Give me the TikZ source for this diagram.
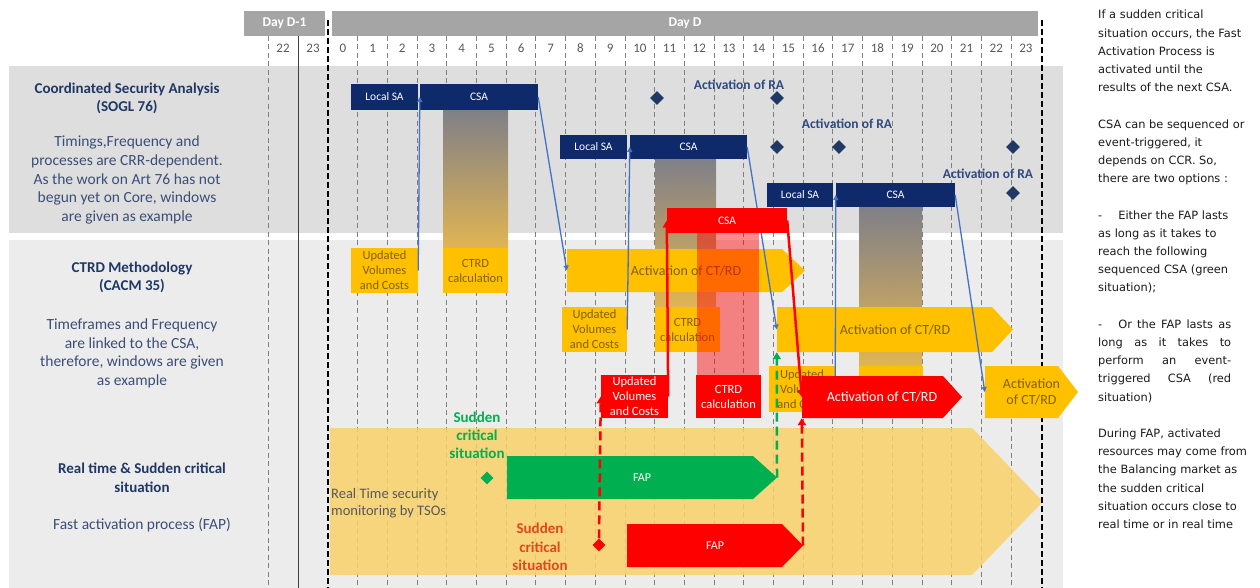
\documentclass[tikz,border=0pt]{standalone}
\usepackage{fontspec}
\setmainfont{Carlito}
\newfontfamily\rfont{DejaVu Sans}
\usetikzlibrary{shapes.geometric,arrows.meta}
\definecolor{navy}{HTML}{0E2A6B}
\definecolor{hdrgray}{HTML}{A5A5A5}
\definecolor{hourtxt}{HTML}{595959}
\definecolor{bandA}{HTML}{DEDEDE}
\definecolor{bandB}{HTML}{ECECEC}
\definecolor{titlenavy}{HTML}{1F3864}
\definecolor{bodyblue}{HTML}{3B4E78}
\definecolor{ralabel}{HTML}{2F4A7E}
\definecolor{dianavy}{HTML}{1F3864}
\definecolor{myyellow}{HTML}{FFC000}
\definecolor{ytext}{HTML}{7F6000}
\definecolor{myred}{HTML}{FF0000}
\definecolor{mygreen}{HTML}{00B050}
\definecolor{redtxt}{HTML}{E5461C}
\definecolor{conblue}{HTML}{4472C4}
\definecolor{bigyellow}{HTML}{F8D16A}
\definecolor{gtop}{HTML}{8C8C96}
\definecolor{gbot}{HTML}{F7C65A}
\definecolor{dashgray}{HTML}{7F7F7F}
\definecolor{soliddark}{HTML}{404040}
\definecolor{notetxt}{HTML}{1A1A1A}

\newcommand\Bx[6]{\node[#1, minimum width={#4-#2}, minimum height={#5-#3}] (#6) at ({(#2+#4)/2},{(#3+#5)/2})}
\newcommand\Arr[8]{%
 \fill[#1] (#3,#4) -- ({#5-#7},#4) -- (#5,{(#4+#6)/2}) -- ({#5-#7},#6) -- (#3,#6) -- cycle;
 \coordinate (#2-tip) at (#5,{(#4+#6)/2});
 \node[#8, minimum width={#5-#3}, minimum height={#6-#4}] (#2) at ({(#3+#5)/2},{(#4+#6)/2})}

\begin{document}
\begin{tikzpicture}[x=1pt,y=-1pt,
  navybox/.style={fill=navy,text=white,inner sep=0,font=\fontsize{11.5}{13}\selectfont},
  ybox/.style={fill=myyellow,text=ytext,inner sep=0,align=center,font=\fontsize{12.5}{15}\selectfont},
  rbox/.style={fill=myred,text=white,inner sep=0,align=center,font=\fontsize{12.5}{15}\selectfont},
  rboxs/.style={fill=myred,text=white,inner sep=0,font=\fontsize{11.5}{13}\selectfont},
  yfill/.style={fill=myyellow},
  rfill/.style={fill=myred},
  gfill/.style={fill=mygreen},
  bigfill/.style={fill=bigyellow,fill opacity=0.85},
  ytxt/.style={text=ytext,inner sep=0,align=center,font=\fontsize{14}{16}\selectfont},
  wtxt/.style={text=white,inner sep=0,align=center,font=\fontsize{14}{16}\selectfont},
  faptxt/.style={text=white,inner sep=0,font=\fontsize{12}{14}\selectfont},
  notxt/.style={inner sep=0},
  hourlbl/.style={text=hourtxt,font=\fontsize{13}{15}\selectfont,inner sep=0},
  hdrbox/.style={fill=hdrgray,text=white,inner sep=0,font=\bfseries\fontsize{13.5}{15}\selectfont},
  hourline/.style={draw=dashgray,line width=1pt,dash pattern=on 5pt off 3.5pt},
  dayline/.style={draw=black,line width=2.4pt,dash pattern=on 6pt off 3pt},
  gcol/.style={top color=gtop,bottom color=gbot,fill opacity=0.9},
  ltitle/.style={text=titlenavy,font=\bfseries\fontsize{15}{18.6}\selectfont,align=center,inner sep=0},
  lbody/.style={text=bodyblue,font=\fontsize{15.5}{18.6}\selectfont,align=center,inner sep=0},
  ralbl/.style={text=ralabel,font=\bfseries\fontsize{13.5}{15}\selectfont,inner sep=0},
  dia/.style={diamond,inner sep=0,minimum width=14,minimum height=14},
  sudG/.style={text=mygreen,font=\bfseries\fontsize{15}{18}\selectfont,align=center,inner sep=0},
  sudR/.style={text=redtxt,font=\bfseries\fontsize{15}{18.5}\selectfont,align=center,inner sep=0},
  rttxt/.style={text=hourtxt,font=\fontsize{14.5}{17}\selectfont,align=left,inner sep=0},
  rtext/.style={text=notetxt,font=\rfont\fontsize{11.4}{18.2}\selectfont,align=left,inner sep=0},
  bcon/.style={draw=conblue,line width=1.3pt,-{Triangle[length=5pt,width=5pt]}},
  rcon/.style={draw=myred,line width=2.5pt,-{Triangle[length=7pt,width=8pt]}},
  rdash/.style={rcon,dash pattern=on 9pt off 5pt},
  gdash/.style={draw=mygreen,line width=2.5pt,dash pattern=on 9pt off 5pt,-{Triangle[length=7pt,width=8pt]}}
]
\useasboundingbox (0,0) rectangle (1260,588);
% bands
\fill[bandA] (9,66) rectangle (1063,233);
\fill[bandB] (9,240) rectangle (1063,588);
% left labels
\node[ltitle] (t1) at (127,98.5) {Coordinated Security Analysis\\(SOGL 76)};
\node[lbody] (b1) at (127,180) {Timings,Frequency and\\processes are CRR-dependent.\\As the work on Art 76 has not\\begun yet on Core, windows\\are given as example};
\node[ltitle] (t2) at (132,277.5) {CTRD Methodology\\(CACM 35)};
\node[lbody] (b2) at (132,353.5) {Timeframes and Frequency\\are linked to the CSA,\\therefore, windows are given\\as example};
\node[ltitle] (t3) at (142,477.5) {Real time \& Sudden critical\\situation};
\node[lbody] (b3) at (142,525) {Fast activation process (FAP)};
% header
\Bx{hdrbox}{244}{11}{325}{36}{dm1}{Day D-1};
\Bx{hdrbox}{332}{11}{1038}{36}{dd}{Day D};
\node[hourlbl] (hm22) at (283,48) {22};
\node[hourlbl] (hm23) at (313,48) {23};
\foreach \h in {0,...,23} \node[hourlbl] (h\h) at ({328+29.7*(\h+0.5)},48) {\h};
% grid lines
\draw[hourline] (268,36) -- (268,588);
\draw[draw=soliddark,line width=0.9pt] (298,36) -- (298,588);
\foreach \k in {1,...,23} \draw[hourline] ({328+29.7*\k},36) -- ({328+29.7*\k},588);
% gradient columns
\fill[gcol] (443,110) rectangle (508,248);
\fill[gcol] (655,159) rectangle (716,307);
\fill[gcol] (859,207) rectangle (922,366);
% big real-time arrow
\Arr{bigfill}{rt}{330}{428}{1043}{575}{71}{notxt}{};
\node[rttxt,anchor=west] (rtl) at (331,503.5) {Real Time security\\monitoring by TSOs};
% day boundaries
\draw[dayline] (328,20) -- (328,588);
\draw[dayline] (1042,20) -- (1042,588);
% navy CSA boxes
\Bx{navybox}{351}{84}{418}{110}{lsa1}{Local SA};
\Bx{navybox}{420}{84}{538}{110}{csa1}{CSA};
\Bx{navybox}{560}{135}{627}{159}{lsa2}{Local SA};
\Bx{navybox}{630}{135}{747}{159}{csa2}{CSA};
\Bx{navybox}{767}{183}{833}{207}{lsa3}{Local SA};
\Bx{navybox}{836}{183}{955}{207}{csa3}{CSA};
% activation of RA
\node[ralbl] (ra1) at (739,85) {Activation of RA};
\node[ralbl] (ra2) at (847,124) {Activation of RA};
\node[ralbl] (ra3) at (988,174) {Activation of RA};
\node[dia,fill=dianavy] (d1a) at (657,98) {};
\node[dia,fill=dianavy] (d1b) at (777,98) {};
\node[dia,fill=dianavy] (d2a) at (777,147) {};
\node[dia,fill=dianavy] (d2b) at (839,147) {};
\node[dia,fill=dianavy] (d2c) at (1013,147) {};
\node[dia,fill=dianavy] (d3a) at (1013,193) {};
% yellow CTRD items
\Bx{ybox}{351}{248}{418}{293}{upd1}{Updated\\Volumes\\and Costs};
\Bx{ybox}{443}{248}{508}{293}{ctrd1}{CTRD\\calculation};
\Arr{yfill}{act1}{567}{249}{805}{292}{23}{ytxt}{Activation of CT/RD};
\Bx{ybox}{562}{307}{627}{352}{upd2}{Updated\\Volumes\\and Costs};
\Bx{ybox}{655}{307}{720}{352}{ctrd2}{CTRD\\calculation};
\Arr{yfill}{act2}{777}{307}{1013}{352}{21}{ytxt}{Activation of CT/RD};
\Bx{ybox}{769}{366}{835}{412}{upd3}{Updated\\Volumes\\and Costs};
\Bx{ybox}{859}{366}{923}{412}{ctrd3}{CTRD\\calculation};
\Arr{yfill}{act3}{985}{366}{1078}{418}{20}{ytxt}{Activation\\of CT/RD};
% blue connectors
\draw[bcon] (upd1.east) -- (csa1.west);
\draw[bcon] (csa1.east) -- (act1.west);
\draw[bcon] (upd2.east) -- (csa2.west);
\draw[bcon] (csa2.east) -- (act2.west);
\draw[bcon] (upd3.east) -- (csa3.west);
\draw[bcon] (csa3.east) -- (act3.west);
% red event-triggered column
\fill[myred,fill opacity=0.45] (697,233) rectangle (759,375);
\Bx{rboxs}{667}{208}{787}{233}{csaR}{CSA};
\Bx{rbox}{601}{375}{668}{418}{updR}{Updated\\Volumes\\and Costs};
\Bx{rbox}{696}{375}{761}{418}{ctrdR}{CTRD\\calculation};
\Arr{rfill}{actR}{802}{376}{962}{418}{19}{wtxt}{Activation of CT/RD};
% FAP arrows
\Arr{gfill}{fapG}{507}{456}{777}{499}{24}{faptxt}{FAP};
\Arr{rfill}{fapR}{627}{524}{803}{567}{21}{faptxt}{FAP};
\node[dia,fill=mygreen,minimum width=13,minimum height=13] (diaG) at (487,478) {};
\node[dia,fill=myred,minimum width=13,minimum height=13] (diaR) at (599,545) {};
\node[sudG] (sg) at (477,435) {Sudden\\critical\\situation};
\node[sudR] (sr) at (540,547) {Sudden\\critical\\situation};
% red / green connectors
\draw[rcon] (updR.east) -- (csaR.west);
\draw[rcon] (csaR.east) -- (actR.west);
\draw[rdash] (diaR.north) -- (updR.west);
\draw[rdash] (fapR-tip) -- (actR.south west);
\draw[gdash] (fapG-tip) -- (act2.south west);
% right note
\node[rtext,anchor=west] (note) at (1098,269.5) {If a sudden critical\\
situation occurs, the Fast\\
Activation Process is\\
activated until the\\
results of the next CSA.\\[18.2pt]
CSA can be sequenced or\\
event-triggered, it\\
depends on CCR. So,\\
there are two options :\\[18.2pt]
-\hspace{16pt}Either the FAP lasts\\
as long as it takes to\\
reach the following\\
sequenced CSA (green\\
situation);\\[18.2pt]
\makebox[133pt][s]{-\hspace{16pt}Or the FAP lasts as}\\
\makebox[133pt][s]{long as it takes to}\\
\makebox[133pt][s]{perform an event-}\\
\makebox[133pt][s]{triggered CSA (red}\\
situation)\\[18.2pt]
During FAP, activated\\
resources may come from\\
the Balancing market as\\
the sudden critical\\
situation occurs close to\\
real time or in real time};
\end{tikzpicture}
\end{document}
